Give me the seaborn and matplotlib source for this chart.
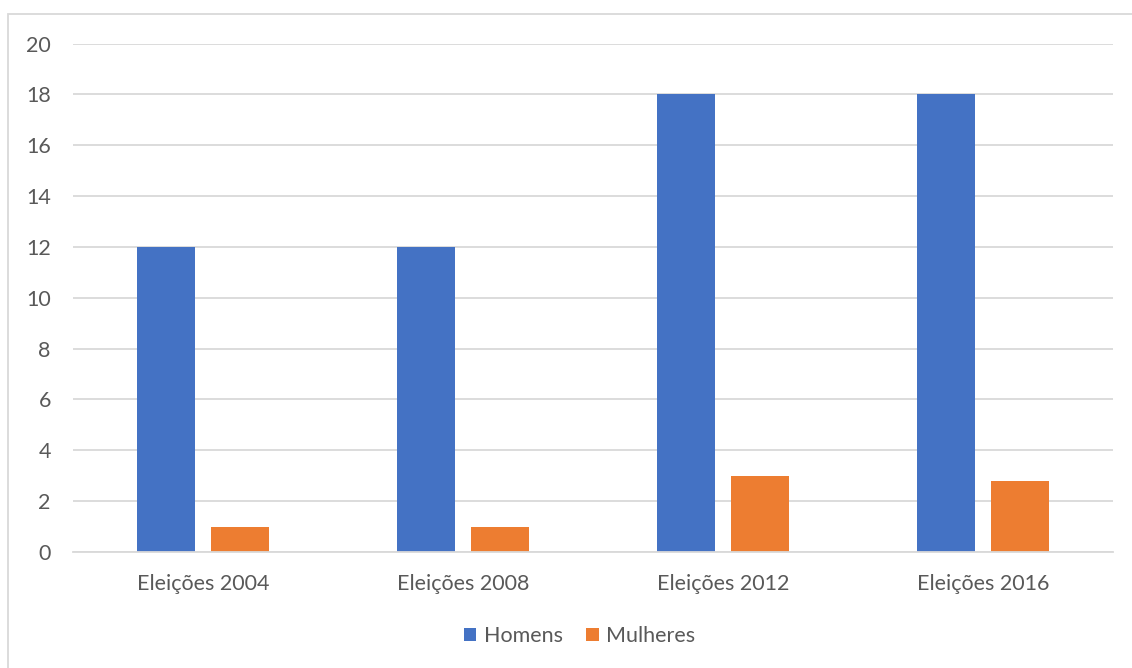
import matplotlib
matplotlib.use("Agg")
import matplotlib.pyplot as plt
from matplotlib.patches import Rectangle
import seaborn as sns
import pandas as pd

# Data
eleicoes = ["Eleições 2004", "Eleições 2008", "Eleições 2012", "Eleições 2016"]
homens = [12, 12, 18, 18]
mulheres = [1, 1, 3, 2.8]
series = ["Homens", "Mulheres"]
yticks = [0, 2, 4, 6, 8, 10, 12, 14, 16, 18, 20]

df = pd.DataFrame({
    "Eleição": eleicoes * 2,
    "Valor": homens + mulheres,
    "Série": [series[0]] * len(eleicoes) + [series[1]] * len(eleicoes),
})

sns.set_theme(style="white")
plt.rcParams["font.family"] = ["Lato", "DejaVu Sans"]

text_color = "#595959"
grid_color = "#d9d9d9"
palette = {"Homens": "#4472c4", "Mulheres": "#ed7d31"}

fig = plt.figure(figsize=(11.32, 6.68), dpi=100)
ax = fig.add_axes([73 / 1132, 1 - 552 / 668, (1113 - 73) / 1132, (552 - 43.5) / 668])

sns.barplot(data=df, x="Eleição", y="Valor", hue="Série", palette=palette,
            width=0.57, gap=0.22, ax=ax, legend=True, saturation=1, linewidth=0)

ax.set_ylim(0, 20)
ax.set_xlim(-0.5, 3.5)
ax.set_yticks(yticks)
ax.set_yticklabels([str(v) for v in yticks])
ax.yaxis.grid(True, color=grid_color, linewidth=1.3)
ax.set_axisbelow(True)
for s in ["top", "right", "left"]:
    ax.spines[s].set_visible(False)
ax.spines["bottom"].set_color(grid_color)
ax.spines["bottom"].set_linewidth(1.3)
ax.tick_params(axis="both", length=0, labelsize=15.5, labelcolor=text_color)
ax.tick_params(axis="y", pad=16)
ax.tick_params(axis="x", pad=16)
ax.set_xlabel("")
ax.set_ylabel("")

handles, labels = ax.get_legend_handles_labels()
ax.legend_.remove()
fig.legend(handles, labels, loc="center", bbox_to_anchor=(580 / 1132, 1 - 636 / 668),
           ncol=2, frameon=False, fontsize=15.5, labelcolor=text_color,
           handlelength=0.56, handleheight=0.56, handletextpad=0.37, columnspacing=1.07)

# Chart frame
fig.patches.append(Rectangle((8 / 1132, -0.01), 1.02 - 8 / 1132, 1 - 14 / 668 + 0.01,
                             transform=fig.transFigure, fill=False,
                             edgecolor="#d9d9d9", linewidth=1.3))

fig.savefig("out.png", dpi=100, facecolor="white")
